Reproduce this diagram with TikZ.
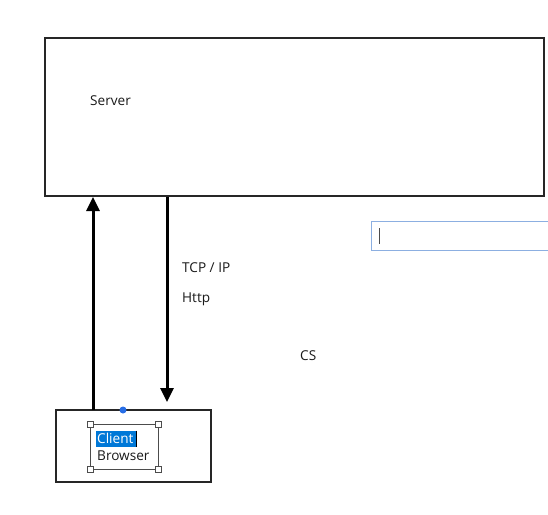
\documentclass[tikz,border=0pt]{standalone}
\usepackage{fontspec}
\setmainfont{Open Sans}
\usetikzlibrary{arrows.meta}
\definecolor{selblue}{RGB}{0,120,215}
\definecolor{boxblue}{RGB}{140,175,225}
\definecolor{dotblue}{RGB}{40,110,230}
\tikzset{
  lbl/.style={inner sep=0pt, anchor=west, font=\fontsize{13.6}{16}\selectfont, text=black!90},
  frame/.style={draw=black!85, line width=1.6pt},
  conn/.style={line width=3pt, -{Triangle[length=14pt,width=13pt]}},
  handle/.style={draw=black!70, fill=white, line width=0.8pt, minimum size=6pt, inner sep=0pt, rectangle}
}
\begin{document}
\begin{tikzpicture}[x=1pt,y=-1pt]
\useasboundingbox[fill=white] (0,0) rectangle (548,514);
% server
\draw[frame] (45,38) rectangle (544,196);
\coordinate (srvL) at (93,197);
\coordinate (srvR) at (167,197);
\node[lbl] (server) at (90,101) {Server};
% client
\draw[frame] (56,410) rectangle (211,482);
\coordinate (cliL) at (93,410);
\coordinate (cliR) at (167,402);
% arrows
\draw[conn] (cliL) -- (srvL);
\draw[conn] (srvR) -- (cliR);
% labels
\node[lbl] (tcp) at (182,268) {TCP / IP};
\node[lbl] (http) at (182,299) {Http};
\node[lbl] (cs) at (300,356) {CS};
% selection box
\draw[black!70, line width=0.8pt] (90,424) rectangle (158,469);
\node[handle] (h1) at (90,424) {};
\node[handle] (h2) at (158,424) {};
\node[handle] (h3) at (90,469) {};
\node[handle] (h4) at (158,469) {};
\fill[selblue] (96,430.5) rectangle (136,446.5);
\node[lbl, text=white] (client) at (97,438.5) {Client};
\draw[black, line width=1pt] (136,430.5) -- (136,446.5);
\node[lbl] (browser) at (97,456) {Browser};
\fill[dotblue] (123,410) circle (3.5pt);
% input box
\draw[boxblue, line width=1pt] (548,221) -- (371,221) -- (371,250) -- (548,250);
\draw[black!70, line width=1pt] (379,228) -- (379,244);
\end{tikzpicture}
\end{document}
